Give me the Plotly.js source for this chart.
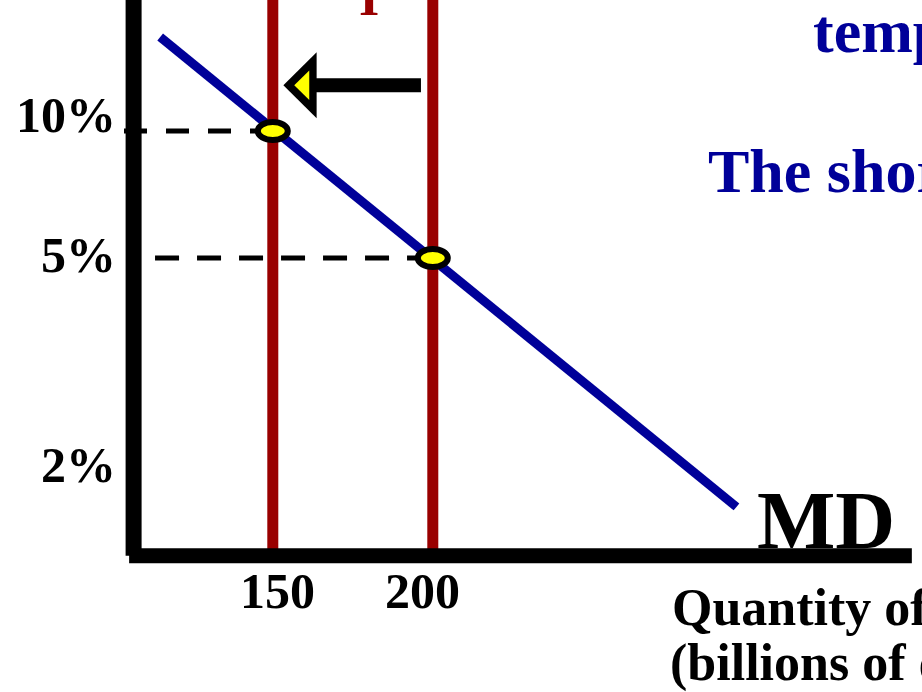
<!DOCTYPE html>
<html>
<head>
<meta charset="utf-8">
<script src="https://cdn.plot.ly/plotly-3.0.1.min.js"></script>
<style>
  html, body { margin: 0; padding: 0; background: #ffffff; }
  #chart { width: 922px; height: 692px; }
</style>
</head>
<body>
<div id="chart"></div>
<script>
// Money market: a cut in the money supply from 200 to 150 lifts the rate from 5% to 10%
const supplyLevels = [150, 200];            // money supply, billions of dollars
const supplyLabels = ['150', '200'];
const equilibriumRates = [10, 5];           // interest rate (%) where MD meets each supply line
const demandQuantity = [114.8, 294.9];      // end points of the money demand curve MD
const demandRate = [13.7, -4.8];
const rateLabels = ['10%', '5%', '2%'];
const rateLabelY = [10.63, 5.11, -3.15];    // label centres; the rate axis is schematic, not to scale

// axis frame (data units)
const X_RANGE = [64.75, 352.875];
const Y_RANGE = [-12.09, 15.16];
const ORIGIN_Q = 106.5;
const ORIGIN_R = -6.72;
const AXIS_END_Q = 349.7;

const SERIF = 'Liberation Serif, "Times New Roman", Times, serif';
const BLUE = '#000099';
const RED = '#990000';

const px = x => x / 922;
const py = y => 1 - y / 692;

const traces = [];

// money demand curve
traces.push({
  type: 'scatter', mode: 'lines',
  x: demandQuantity, y: demandRate,
  line: { color: BLUE, width: 9 },
  hoverinfo: 'skip', showlegend: false
});

// vertical money supply lines
supplyLevels.forEach(q => {
  traces.push({
    type: 'scatter', mode: 'lines',
    x: [q, q], y: [ORIGIN_R + 0.25, Y_RANGE[1] + 1],
    line: { color: RED, width: 11 },
    hoverinfo: 'skip', showlegend: false
  });
});

// dashed guides from the rate axis to each equilibrium
const dashStartQ = [103.5, 113.2];
const dashPattern = ['23px,19px', '24px,18px'];
equilibriumRates.forEach((r, i) => {
  traces.push({
    type: 'scatter', mode: 'lines',
    x: [dashStartQ[i], supplyLevels[i]], y: [r, r],
    line: { color: '#000000', width: 5, dash: dashPattern[i] },
    hoverinfo: 'skip', showlegend: false
  });
});

const shapes = [];

// axes
shapes.push({
  type: 'line', xref: 'x', yref: 'y',
  x0: ORIGIN_Q, x1: ORIGIN_Q, y0: ORIGIN_R, y1: Y_RANGE[1] + 1,
  line: { color: '#000000', width: 16 }
});
shapes.push({
  type: 'line', xref: 'x', yref: 'y',
  x0: 105.1, x1: AXIS_END_Q, y0: ORIGIN_R, y1: ORIGIN_R,
  line: { color: '#000000', width: 15 }
});

// equilibrium points
supplyLevels.forEach((q, i) => {
  shapes.push({
    type: 'circle', xref: 'x', yref: 'y',
    xsizemode: 'pixel', ysizemode: 'pixel',
    xanchor: q, yanchor: equilibriumRates[i],
    x0: -15, x1: 15, y0: -9, y1: 9,
    fillcolor: '#ffff00',
    line: { color: '#000000', width: 6 }
  });
});

// left-pointing arrow: supply shifts from 200 to 150
const arrowR = 11.8, tipQ = 153.3, headQ = 163.7, tailQ = 196.3;
shapes.push({
  type: 'line', xref: 'x', yref: 'y',
  x0: headQ - 1, x1: tailQ, y0: arrowR, y1: arrowR,
  line: { color: '#000000', width: 14 }
});
shapes.push({
  type: 'path', xref: 'x', yref: 'y',
  path: `M ${tipQ} ${arrowR} L ${headQ} ${arrowR + 1.3} L ${headQ} ${arrowR - 1.3} Z`,
  fillcolor: '#000000', line: { width: 0 }
});
shapes.push({
  type: 'path', xref: 'x', yref: 'y',
  path: `M ${tipQ + 3.4} ${arrowR} L ${headQ - 2.3} ${arrowR + 0.58} L ${headQ - 2.3} ${arrowR - 0.58} Z`,
  fillcolor: '#ffff00', line: { width: 0 }
});

const annotations = [];
function label(text, x, y, size, color, xanchor, extra) {
  annotations.push(Object.assign({
    text: '<b>' + text + '</b>',
    x: x, y: y, xref: 'paper', yref: 'paper',
    xanchor: xanchor, yanchor: 'middle',
    showarrow: false,
    font: { family: SERIF, size: size, color: color }
  }, extra || {}));
}

// rate labels
rateLabels.forEach((t, i) => {
  annotations.push({
    text: '<b>' + t + '</b>',
    x: px(117.5), y: rateLabelY[i], xref: 'paper', yref: 'y',
    xanchor: 'right', yanchor: 'middle', showarrow: false,
    font: { family: SERIF, size: 50, color: '#000000' }
  });
});

// quantity labels
const supplyLabelShift = [5, -10];
supplyLabels.forEach((t, i) => {
  annotations.push({
    text: '<b>' + t + '</b>',
    x: supplyLevels[i], y: py(591), xref: 'x', yref: 'paper',
    xanchor: 'center', yanchor: 'middle', xshift: supplyLabelShift[i],
    showarrow: false,
    font: { family: SERIF, size: 50, color: '#000000' }
  });
});

label('MD', px(754.7), py(520), 83, '#000000', 'left');
label('Quantity of Money', px(670), py(607.5), 52, '#000000', 'left');
label('(billions of dollars)', px(668.4), py(662.5), 52, '#000000', 'left');
label('temporarily', px(811), py(31), 62, BLUE, 'left');
label('The short run', px(706), py(171), 62, BLUE, 'left');
label('I', px(369), py(-2.5), 52, RED, 'center');

const layout = {
  width: 922, height: 692,
  margin: { l: 0, r: 0, t: 0, b: 0, pad: 0 },
  paper_bgcolor: '#ffffff', plot_bgcolor: '#ffffff',
  showlegend: false,
  xaxis: { range: X_RANGE, visible: false, fixedrange: true },
  yaxis: { range: Y_RANGE, visible: false, fixedrange: true },
  shapes: shapes,
  annotations: annotations
};

Plotly.newPlot('chart', traces, layout, { staticPlot: true, displayModeBar: false });
</script>
</body>
</html>
